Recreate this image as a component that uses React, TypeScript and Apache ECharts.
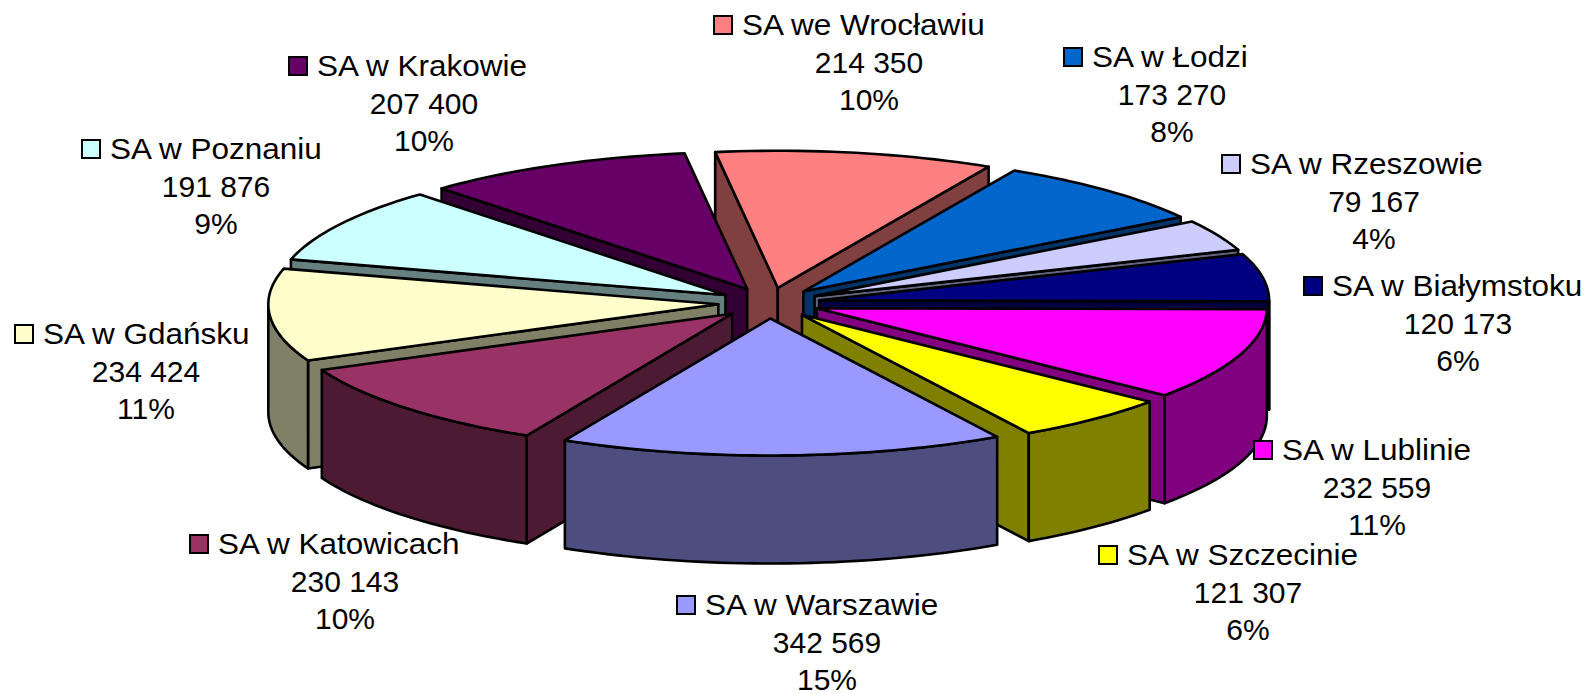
import React, { useEffect, useRef } from "react";
import * as echarts from "echarts";

const names = ["SA we Wrocławiu", "SA w Łodzi", "SA w Rzeszowie", "SA w Białymstoku", "SA w Lublinie", "SA w Szczecinie", "SA w Warszawie", "SA w Katowicach", "SA w Gdańsku", "SA w Poznaniu", "SA w Krakowie"];
const values = [214350, 173270, 79167, 120173, 232559, 121307, 342569, 230143, 234424, 191876, 207400];
const percents = ["10%", "8%", "4%", "6%", "11%", "6%", "15%", "10%", "11%", "9%", "10%"];
const colors = ["#FF8080", "#0066CC", "#CCCCFF", "#000080", "#FF00FF", "#FFFF00", "#9999FF", "#993366", "#FFFFCC", "#CCFFFF", "#660066"];
// swatch centre x, first line centre y, centre x of value lines
const labelSwatchX = [723, 1073, 1231, 1313, 1263, 1108, 686, 199, 24, 91, 298];
const labelY = [25, 57, 164, 286, 450, 555, 605, 544, 334, 149, 66];
const labelCenterX = [869, 1172, 1374, 1458, 1377, 1248, 827, 345, 146, 216, 424];

const CX = 769, CY = 303, RX = 450, RY = 137, EXPLODE = 0.113, DEPTH = 108, START = -8;
const NAME_SCALE = 1.05, FONT_SIZE = 30, LINE_H = 37;
const FONT = '"Liberation Sans", Arial, sans-serif';

const total = values.reduce((a, b) => a + b, 0);
const rad = (d: number) => (d * Math.PI) / 180;
const ranges: [number, number][] = [];
{
  let a = START;
  for (const v of values) {
    const b = a + (v / total) * 360;
    ranges.push([a, b]);
    a = b;
  }
}
const midCos = (i: number) => Math.cos(rad((ranges[i][0] + ranges[i][1]) / 2));
const drawOrder = values.map((_, i) => i).sort((p, q) => midCos(q) - midCos(p));

function darken(hex: string) {
  const n = parseInt(hex.slice(1), 16);
  const c = [(n >> 16) & 255, (n >> 8) & 255, n & 255].map((x) => Math.round(x / 2));
  return `rgb(${c[0]},${c[1]},${c[2]})`;
}

function renderItem(_params: any, api: any) {
  const i = api.value(0);
  const [a, b] = ranges[i];
  const mid = (a + b) / 2;
  const ax = CX + EXPLODE * RX * Math.sin(rad(mid));
  const ay = CY - EXPLODE * RY * Math.cos(rad(mid));
  const pt = (d: number, dz = 0): number[] => [ax + RX * Math.sin(rad(d)), ay - RY * Math.cos(rad(d)) + dz];
  const arc = (from: number, to: number, dz = 0) => {
    const out: number[][] = [];
    const n = Math.max(2, Math.ceil((to - from) / 1.5));
    for (let k = 0; k <= n; k++) out.push(pt(from + ((to - from) * k) / n, dz));
    return out;
  };
  const wall = darken(colors[i]);
  const edge = { stroke: "#000", lineWidth: 2.6, lineJoin: "round" };
  const children: any[] = [];
  const poly = (points: number[][], fill: string) =>
    children.push({ type: "polygon", shape: { points }, style: { fill, ...edge } });

  if (Math.sin(rad(a)) < 0) poly([[ax, ay], pt(a), pt(a, DEPTH), [ax, ay + DEPTH]], wall);
  if (Math.sin(rad(b)) > 0) poly([[ax, ay], pt(b), pt(b, DEPTH), [ax, ay + DEPTH]], wall);
  const f = Math.max(a, 90), t = Math.min(b, 270);
  if (t > f) poly([...arc(f, t), ...arc(f, t, DEPTH).reverse()], wall);
  poly([[ax, ay], ...arc(a, b)], colors[i]);

  return { type: "group", children };
}

function renderLabel(_params: any, api: any) {
  const i = api.value(0);
  const base = { fill: "#000", font: `${FONT_SIZE}px ${FONT}`, verticalAlign: "middle" };
  const sx = labelSwatchX[i], y = labelY[i], cx = labelCenterX[i];
  return {
    type: "group",
    children: [
      { type: "rect", shape: { x: sx - 9, y: y - 9, width: 18, height: 18 }, style: { fill: colors[i], stroke: "#000", lineWidth: 2 } },
      { type: "text", x: sx + 19, y, scaleX: NAME_SCALE, style: { ...base, text: names[i], align: "left" } },
      { type: "text", x: cx, y: y + LINE_H, style: { ...base, text: String(api.value(1)).replace(/\B(?=(\d{3})+$)/g, " "), align: "center" } },
      { type: "text", x: cx, y: y + 2 * LINE_H, style: { ...base, text: percents[i], align: "center" } },
    ],
  };
}

export default function App() {
  const ref = useRef<HTMLDivElement>(null);
  useEffect(() => {
    document.body.style.margin = "0";
    const chart = echarts.init(ref.current!, undefined, { renderer: "svg" });
    chart.setOption({
      animation: false,
      backgroundColor: "#fff",
      series: [
        { type: "custom", coordinateSystem: "none", silent: true, renderItem, data: drawOrder.map((i) => [i, values[i]]) },
        { type: "custom", coordinateSystem: "none", silent: true, renderItem: renderLabel, data: values.map((v, i) => [i, v]) },
      ],
    });
    return () => chart.dispose();
  }, []);
  return <div ref={ref} style={{ width: 1584, height: 694 }} />;
}
